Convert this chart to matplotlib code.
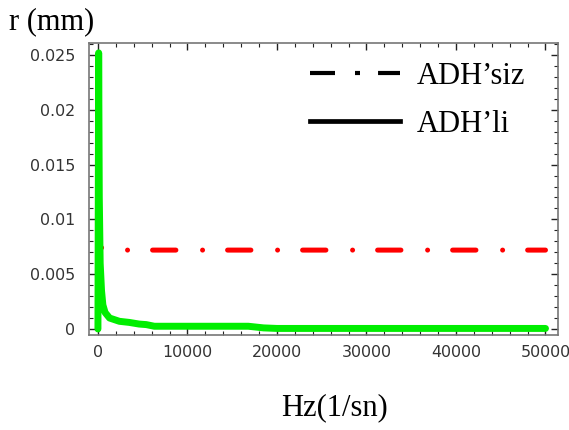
import matplotlib.pyplot as plt
from matplotlib.lines import Line2D
from matplotlib.ticker import MultipleLocator, FuncFormatter

plt.rcParams['lines.scale_dashes'] = False

# ADH'siz (red, dash-dot)
hz_siz = [0, 60, 250, 800, 50000]
r_siz = [0.0032, 0.0082, 0.0075, 0.0072, 0.0072]

# ADH'li (green, solid)
hz_li = [0, 80, 150, 250, 400, 550, 800, 1300, 2400, 3500, 4600, 5400, 6300,
         16800, 18500, 20000, 50000]
r_li = [0.0, 0.0252, 0.012, 0.006, 0.0035, 0.0022, 0.0015, 0.0010, 0.0007,
        0.0006, 0.00045, 0.0004, 0.00025, 0.00025, 0.0001, 0.00005, 0.00005]

x_ticks = [0, 10000, 20000, 30000, 40000, 50000]
y_ticks = [0, 0.005, 0.01, 0.015, 0.02, 0.025]

dashdot = (42.5, (0.01, 18.0, 16.8, 19.2))

fig = plt.figure(figsize=(5.69, 4.30), dpi=100)
ax = fig.add_axes([0.1564, 0.2209, 0.8243, 0.6791])

ax.plot(hz_siz, r_siz, color='#ff0000', linewidth=3.6, linestyle=dashdot,
        dash_capstyle='round', solid_capstyle='round')
ax.plot(hz_li, r_li, color='#00ee00', linewidth=5.0,
        solid_capstyle='round', solid_joinstyle='round')

ax.set_xlim(-1000, 51400)
ax.set_ylim(-0.00055, 0.0261)
ax.set_xticks(x_ticks)
ax.set_yticks(y_ticks)
ax.xaxis.set_minor_locator(MultipleLocator(2000))
ax.yaxis.set_minor_locator(MultipleLocator(0.001))
ax.yaxis.set_major_formatter(FuncFormatter(lambda v, p: ('%.3f' % v).rstrip('0').rstrip('.') if v else '0'))

ax.tick_params(which='both', direction='in', top=True, right=True,
               colors='#222222', labelcolor='#333333', labelsize=11.4)
ax.tick_params(which='major', length=5, width=1)
ax.tick_params(which='minor', length=3, width=0.8)
ax.tick_params(axis='x', pad=7)
ax.tick_params(axis='y', pad=10)
for s in ax.spines.values():
    s.set_color('#777777')
    s.set_linewidth(1.2)

serif = ['Liberation Serif', 'DejaVu Serif']
fig.text(0.016, 0.949, 'r (mm)', family=serif, fontsize=22, ha='left', va='center')
fig.text(0.587, 0.051, 'Hz(1/sn)', family=serif, fontsize=22, ha='center', va='center')

handles = [
    Line2D([], [], color='black', linewidth=3.0, linestyle=(0, (18, 14.4, 3.6, 13))),
    Line2D([], [], color='black', linewidth=3.4),
]
ax.legend(handles, ['ADH’siz', 'ADH’li'], loc='upper left', frameon=False,
          bbox_to_anchor=(0.471, 0.935), borderaxespad=0, borderpad=0,
          prop={'family': serif, 'size': 22},
          handlelength=2.95, handletextpad=0.55, labelspacing=0.62)

fig.savefig('out.png', dpi=100)
